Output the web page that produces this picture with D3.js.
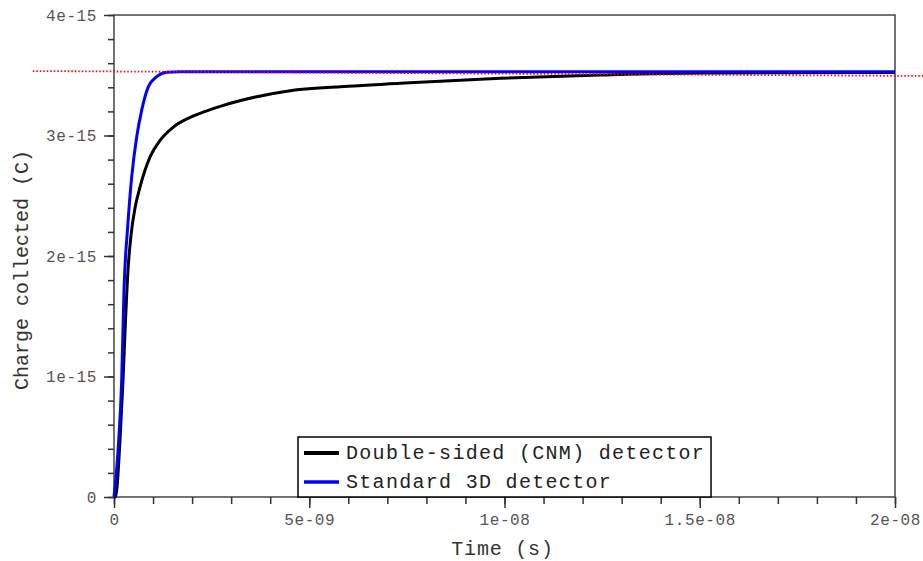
<!DOCTYPE html>
<html>
<head>
<meta charset="utf-8">
<script src="https://cdn.jsdelivr.net/npm/d3@7"></script>
<style>
  body { margin: 0; background: #fff; }
  svg { display: block; }
</style>
</head>
<body>
<div id="chart"></div>
<script>
// data: time in ns, charge in fC (1e-15 C)
var black_t = [0, 0.038, 0.154, 0.231, 0.295, 0.359, 0.436, 0.538, 0.667, 0.923, 1.18, 1.52, 1.95, 2.38, 2.80, 3.66, 4.51, 5.79, 7.33, 9.90, 12.46, 15.03, 20];
var black_q = [0, 0, 0.473, 0.971, 1.469, 1.884, 2.174, 2.398, 2.573, 2.822, 2.96, 3.07, 3.15, 3.205, 3.25, 3.322, 3.372, 3.405, 3.433, 3.475, 3.502, 3.519, 3.523];

var blue_t = [0, 0.11, 0.197, 0.256, 0.351, 0.454, 0.582, 0.71, 0.88, 1.095, 1.35, 1.69, 20];
var blue_q = [0, 0.417, 0.971, 1.718, 2.243, 2.658, 2.99, 3.21, 3.405, 3.488, 3.524, 3.53, 3.53];

// red dotted reference line (runs past the frame)
var ref_t = [-2.08, 20.74];
var ref_q = [3.535, 3.494];

var x_ticks = [0, 5, 10, 15, 20];
var x_labels = ["0", "5e-09", "1e-08", "1.5e-08", "2e-08"];
var y_ticks = [0, 1, 2, 3, 4];
var y_labels = ["0", "1e-15", "2e-15", "3e-15", "4e-15"];

var series_names = ["Double-sided (CNM) detector", "Standard 3D detector"];
var series_colors = ["#000000", "#0000ff"];

var svg_w = 923, svg_h = 561;
var m_left = 114, m_right = 895, m_top = 15, m_bottom = 497;

var svg = d3.select("#chart").append("svg")
  .attr("width", svg_w)
  .attr("height", svg_h);

svg.append("rect").attr("width", svg_w).attr("height", svg_h).attr("fill", "#fff");

var x = d3.scaleLinear().domain([0, 20]).range([m_left, m_right]);
var y = d3.scaleLinear().domain([0, 4]).range([m_bottom, m_top]);

// frame
svg.append("rect")
  .attr("x", m_left).attr("y", m_top)
  .attr("width", m_right - m_left).attr("height", m_bottom - m_top)
  .attr("fill", "none")
  .attr("stroke", "#444")
  .attr("stroke-width", 1.5);

// minor ticks
var x_minor = d3.range(0, 20.01, 1);
var y_minor = d3.range(0, 4.01, 0.2);

svg.append("g")
  .attr("transform", "translate(0," + m_bottom + ")")
  .call(d3.axisBottom(x).tickValues(x_minor).tickSize(7).tickFormat(""))
  .call(function(g) { g.select(".domain").remove(); })
  .selectAll("line").attr("stroke", "#333").attr("stroke-width", 1.5);

svg.append("g")
  .attr("transform", "translate(" + m_left + ",0)")
  .call(d3.axisLeft(y).tickValues(y_minor).tickSize(6).tickFormat(""))
  .call(function(g) { g.select(".domain").remove(); })
  .selectAll("line").attr("stroke", "#333").attr("stroke-width", 1.5);

// major ticks + labels
var gx = svg.append("g")
  .attr("transform", "translate(0," + m_bottom + ")")
  .call(d3.axisBottom(x).tickValues(x_ticks).tickSize(11).tickPadding(6)
    .tickFormat(function(d, i) { return x_labels[i]; }));
gx.select(".domain").remove();
gx.selectAll("line").attr("stroke", "#333").attr("stroke-width", 1.5);
gx.selectAll("text")
  .attr("fill", "#555")
  .style("font-family", "Liberation Mono, monospace")
  .style("font-size", "16px")
  .style("letter-spacing", "0.6px");

var gy = svg.append("g")
  .attr("transform", "translate(" + m_left + ",0)")
  .call(d3.axisLeft(y).tickValues(y_ticks).tickSize(10).tickPadding(7)
    .tickFormat(function(d, i) { return y_labels[i]; }));
gy.select(".domain").remove();
gy.selectAll("line").attr("stroke", "#333").attr("stroke-width", 1.5);
gy.selectAll("text")
  .attr("fill", "#555")
  .style("font-family", "Liberation Mono, monospace")
  .style("font-size", "16px")
  .style("letter-spacing", "0.6px");

// axis titles
svg.append("text")
  .attr("x", (m_left + m_right) / 2 - 2)
  .attr("y", 555)
  .attr("text-anchor", "middle")
  .attr("fill", "#333")
  .style("font-family", "Liberation Mono, monospace")
  .style("font-size", "20px")
  .style("letter-spacing", "0.8px")
  .text("Time (s)");

svg.append("text")
  .attr("transform", "translate(28," + 270 + ") rotate(-90)")
  .attr("text-anchor", "middle")
  .attr("fill", "#333")
  .style("font-family", "Liberation Mono, monospace")
  .style("font-size", "20px")
  .text("Charge collected (C)");

// curves
var line = d3.line()
  .x(function(d) { return x(d[0]); })
  .y(function(d) { return y(d[1]); });

var black_pts = d3.zip(black_t, black_q);
var blue_pts = d3.zip(blue_t, blue_q);

svg.append("path")
  .datum(black_pts)
  .attr("d", line.curve(d3.curveMonotoneX))
  .attr("fill", "none")
  .attr("stroke", series_colors[0])
  .attr("stroke-width", 3);

svg.append("path")
  .datum(blue_pts)
  .attr("d", line.curve(d3.curveMonotoneX))
  .attr("fill", "none")
  .attr("stroke", series_colors[1])
  .attr("stroke-width", 3);

// reference line
svg.append("path")
  .datum(d3.zip(ref_t, ref_q))
  .attr("d", line.curve(d3.curveLinear))
  .attr("fill", "none")
  .attr("stroke", "#ff0000")
  .attr("stroke-width", 1.8)
  .attr("stroke-dasharray", "1.5,2");

// legend
var leg = svg.append("g");
leg.append("rect")
  .attr("x", 298).attr("y", 437)
  .attr("width", 711 - 298).attr("height", m_bottom - 437)
  .attr("fill", "#fff")
  .attr("stroke", "#000")
  .attr("stroke-width", 1.5);

series_names.forEach(function(name, i) {
  var ly = 453 + i * 29;
  leg.append("line")
    .attr("x1", 304).attr("x2", 339)
    .attr("y1", ly).attr("y2", ly)
    .attr("stroke", series_colors[i])
    .attr("stroke-width", i == 0 ? 4 : 3.5);
  leg.append("text")
    .attr("x", 346).attr("y", ly + 6)
    .attr("fill", "#222")
    .style("font-family", "Liberation Mono, monospace")
    .style("font-size", "20px")
    .style("letter-spacing", "1.3px")
    .text(name);
});
</script>
</body>
</html>
